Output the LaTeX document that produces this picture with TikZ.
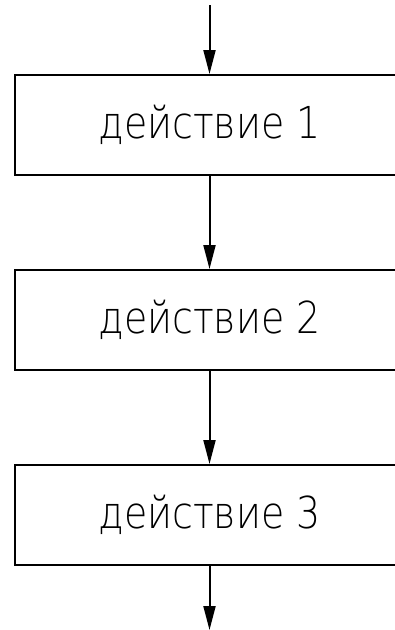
\documentclass[tikz,border=0pt]{standalone}
\usepackage{fontspec}
\newfontfamily\gostfont{DejaVu Sans ExtraLight}[FakeStretch=0.86]
\usetikzlibrary{arrows.meta,positioning}
\tikzstyle{action} = [draw,line width=2pt,minimum width=390pt,minimum height=100pt,inner sep=0pt,font=\gostfont\fontsize{44}{50}\selectfont]
\tikzset{>={Triangle[length=24pt,width=12pt]}}

\begin{document}
\begin{tikzpicture}[x=1pt,y=1pt,node distance=93pt]
    \clip (0,0) rectangle (395,-630);
    \node [action] (act1) at (209.5,-125) {действие 1};
    \node [action,below=of act1] (act2) {действие 2};
    \node [action,below=of act2] (act3) {действие 3};
    \coordinate (start) at (209.5,-5);
    \coordinate (stop) at (209.5,-630);

    \draw [line width=2pt,->] (start) -- (act1);
    \draw [line width=2pt,->] (act1) -- (act2);
    \draw [line width=2pt,->] (act2) -- (act3);
    \draw [line width=2pt,->] (act3) -- (stop);
\end{tikzpicture}
\end{document}
